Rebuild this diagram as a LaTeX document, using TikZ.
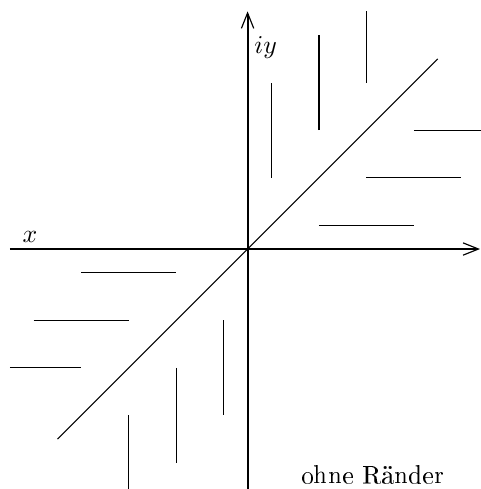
\documentclass[tikz,border=0pt]{standalone}
\usepackage[T1]{fontenc}
\usepackage{tikz}
\usetikzlibrary{arrows.meta}

\begin{document}
\begin{tikzpicture}[
  x=0.65cm, y=0.65cm,
  axis/.style={line width=0.8pt,
    -{Straight Barb[length=6pt,width=4.8pt,line width=0.45pt]}},
  hatch/.style={line width=0.5pt},
  diag/.style={line width=0.4pt},
  lbl/.style={inner sep=1pt},
]
\useasboundingbox (-5.21,-5.05) rectangle (4.895,5.24);

% axes
\coordinate (O) at (0,0);
\coordinate (xl) at (-5,0);
\coordinate (xr) at (4.89,0);
\coordinate (yb) at (0,-5.1);
\coordinate (yt) at (0,5);
\draw[axis] (xl) -- (xr);
\draw[axis] (yb) -- (yt);
\node[lbl] (xlab) at (-4.58,0.25) {$x$};
\node[lbl] (ylab) at (0.38,4.25) {$iy$};

% diagonal
\coordinate (d1) at (-4,-4);
\coordinate (d2) at (4,4);
\draw[diag] (d1) -- (d2);

% upper half: vertical strokes
\foreach \x/\ya/\yb in {0.5/1.5/3.5, 1.5/2.5/4.5, 2.5/3.5/5}
  \draw[hatch] (\x,\ya) -- (\x,\yb);
% right half: horizontal strokes
\foreach \y/\xa/\xb in {0.5/1.5/3.5, 1.5/2.5/4.5, 2.5/3.5/5.5}
  \draw[hatch] (\xa,\y) -- (\xb,\y);

% left half: horizontal strokes
\foreach \y/\xa/\xb in {-0.5/-3.5/-1.5, -1.5/-4.5/-2.5, -2.5/-5/-3.5}
  \draw[hatch] (\xa,\y) -- (\xb,\y);
% lower half: vertical strokes
\foreach \x/\ya/\yb in {-0.5/-1.5/-3.5, -1.5/-2.5/-4.5, -2.5/-3.5/-5.5}
  \draw[hatch] (\x,\ya) -- (\x,\yb);

\node[lbl] (note) at (2.63,-4.74) {ohne R\"ander};
\end{tikzpicture}
\end{document}
